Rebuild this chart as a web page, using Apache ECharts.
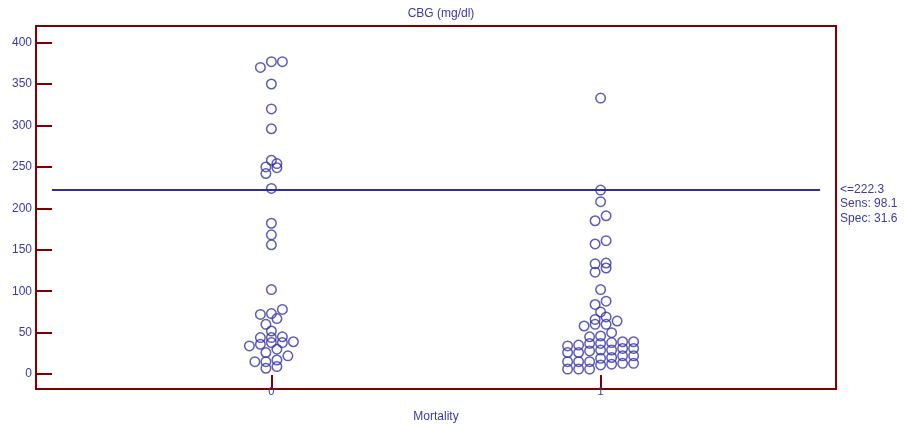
<!DOCTYPE html>
<html>
<head>
<meta charset="utf-8">
<title>CBG (mg/dl) by Mortality</title>
<script src="https://cdn.jsdelivr.net/npm/echarts@6/dist/echarts.min.js"></script>
<style>
  html, body { margin: 0; padding: 0; background: #fff; }
  #chart { width: 904px; height: 425px; }
</style>
</head>
<body>
<div id="chart"></div>
<script>
// values
const mortalityGroups = ['0', '1'];
const cbgMortality0 = [7, 9, 15, 15, 17, 22, 26, 30, 34, 36, 38, 38, 39, 44, 44, 45, 52, 60, 67,
  72, 73, 78, 102, 156, 168, 182, 224, 242, 249, 250, 254, 258, 296, 320, 350, 370, 377, 377];
const cbgMortality1 = [6, 6, 6, 11, 12, 13, 13, 15, 15, 15, 19, 20, 22, 22, 26, 26, 28, 29, 29, 31, 31,
  34, 35, 37, 37, 38, 39, 39, 45, 46, 50, 58, 60, 60, 64, 66, 69, 75, 84, 88, 102, 123, 128,
  133, 134, 157, 161, 185, 191, 208, 222, 333];
const yTicks = [0, 50, 100, 150, 200, 250, 300, 350, 400];
const cutoff = 222.3;
const cutoffText = ['<=222.3', 'Sens: 98.1', 'Spec: 31.6'];

const red = '#800000';
const blue = '#3a3aa3';
const font = 'Arial, "Liberation Sans", sans-serif';
const dotStepPx = 11;   // horizontal distance between dots sharing a bin
const binWidth = 8;     // values closer than this share a row

const chart = echarts.init(document.getElementById('chart'));

chart.setOption({
  animation: false,
  title: {
    text: 'CBG (mg/dl)',
    left: 436,
    top: 3,
    textAlign: 'center',
    textStyle: { color: blue, fontSize: 12, fontWeight: 'normal', fontFamily: font }
  },
  grid: {
    left: 36, right: 68, top: 26, bottom: 36,
    outerBoundsMode: 'none',
    show: true, borderColor: red, borderWidth: 2
  },
  xAxis: {
    type: 'value',
    min: -0.715,
    max: 1.715,
    name: 'Mortality',
    nameLocation: 'middle',
    nameGap: 22,
    nameTextStyle: { color: blue, fontSize: 12, fontFamily: font },
    axisLine: { onZero: false, lineStyle: { color: red, width: 2 } },
    axisTick: { inside: true, length: 14, customValues: [0, 1], lineStyle: { color: red, width: 2 } },
    axisLabel: {
      customValues: [0, 1],
      formatter: v => mortalityGroups[v],
      margin: -3,
      color: blue, fontSize: 11, fontFamily: font
    },
    splitLine: { show: false }
  },
  yAxis: {
    type: 'value',
    min: -18,
    max: 420,
    axisLine: { show: true, onZero: false, lineStyle: { color: red, width: 2 } },
    axisTick: { show: true, inside: true, length: 16, customValues: yTicks, lineStyle: { color: red, width: 2 } },
    axisLabel: { customValues: yTicks, margin: 4, color: blue, fontSize: 12, fontFamily: font },
    splitLine: { show: false }
  },
  series: []
});

// pixel step -> axis units
const origin = chart.convertToPixel({ gridIndex: 0 }, [0, 0]);
const stepX = chart.convertFromPixel({ gridIndex: 0 }, [origin[0] + dotStepPx, origin[1]])[0];

function dotPlot(values, center) {
  const sorted = values.slice().sort((a, b) => a - b);
  const out = [];
  let i = 0;
  while (i < sorted.length) {
    const start = sorted[i];
    const bin = [];
    while (i < sorted.length && sorted[i] < start + binWidth) bin.push(sorted[i++]);
    bin.forEach((v, k) => out.push([center + (k - (bin.length - 1) / 2) * stepX, v]));
  }
  return out;
}

const dotStyle = {
  type: 'scatter',
  symbol: 'circle',
  symbolSize: 9.5,
  itemStyle: { color: 'transparent', borderColor: '#3434a8', borderWidth: 1.5 },
  z: 3
};

chart.setOption({
  series: [
    Object.assign({}, dotStyle, {
      name: mortalityGroups[0],
      data: dotPlot(cbgMortality0, 0)
    }),
    Object.assign({}, dotStyle, {
      name: mortalityGroups[1],
      data: dotPlot(cbgMortality1, 1),
      markLine: {
        silent: true,
        symbol: 'none',
        z: 5,
        lineStyle: { color: '#2f2f9c', width: 2, type: 'solid' },
        label: {
          position: 'end',
          distance: 20,
          formatter: cutoffText.join('\n'),
          color: blue,
          fontSize: 12,
          lineHeight: 14.5,
          fontFamily: font,
          align: 'left',
          offset: [0, 14]
        },
        data: [[{ coord: [-2 / 3, cutoff] }, { coord: [1 + 2 / 3, cutoff] }]]
      }
    })
  ]
});
</script>
</body>
</html>
